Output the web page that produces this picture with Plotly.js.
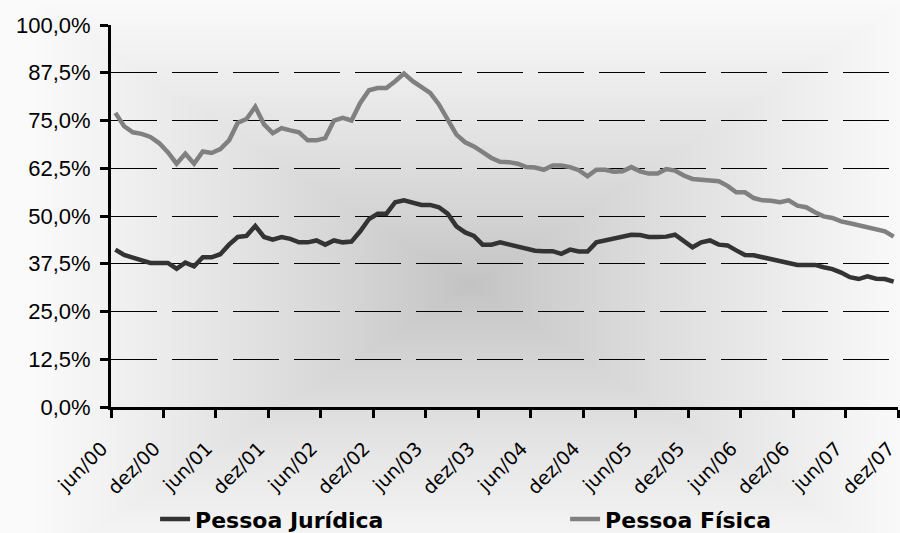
<!DOCTYPE html>
<html>
<head>
<meta charset="utf-8">
<script src="https://cdn.plot.ly/plotly-3.0.1.min.js"></script>
<style>
  html, body { margin: 0; padding: 0; background: #ffffff; }
  #chart { width: 900px; height: 533px; background-repeat: no-repeat; }
</style>
</head>
<body>
<div id="chart"></div>
<script>
// ---- Data, monthly jun/00 .. nov/07 ----
const juridica = [41.2, 39.8, 39.1, 38.3, 37.7, 37.7, 37.7, 36.2, 37.8, 36.8,
  39.2, 39.2, 40.0, 42.5, 44.5, 44.8, 47.4, 44.5, 43.8, 44.5,
  44.0, 43.1, 43.1, 43.6, 42.5, 43.6, 43.1, 43.3, 46.0, 49.2,
  50.6, 50.6, 53.6, 54.1, 53.6, 52.9, 52.9, 52.3, 50.6, 47.3,
  45.7, 44.8, 42.5, 42.5, 43.1, 42.6, 41.9, 41.3, 40.9, 40.8,
  40.8, 40.1, 41.2, 40.7, 40.7, 43.1, 43.6, 44.2, 44.6, 45.1,
  45.0, 44.5, 44.5, 44.6, 45.1, 43.3, 41.8, 43.1, 43.6, 42.5,
  42.3, 41.0, 39.8, 39.7, 39.2, 38.7, 38.3, 37.7, 37.2, 37.2,
  37.2, 36.6, 36.1, 35.2, 34.0, 33.5, 34.2, 33.6, 33.5, 32.8];

const fisica = [77.0, 73.5, 71.9, 71.5, 70.7, 69.1, 66.7, 63.7, 66.3, 63.7,
  66.9, 66.5, 67.5, 69.8, 74.4, 75.4, 78.6, 74.0, 71.7, 73.0,
  72.4, 71.9, 69.8, 69.8, 70.4, 75.0, 75.7, 75.0, 79.6, 82.9,
  83.5, 83.5, 85.3, 87.3, 85.3, 83.9, 82.2, 79.2, 75.2, 71.3,
  69.3, 68.2, 66.7, 65.2, 64.2, 64.1, 63.7, 62.8, 62.7, 62.1,
  63.2, 63.2, 62.8, 62.0, 60.4, 62.1, 62.1, 61.6, 61.7, 62.8,
  61.7, 61.1, 61.1, 62.3, 61.9, 60.6, 59.7, 59.5, 59.2, 59.1,
  57.9, 56.2, 56.2, 54.7, 54.1, 54.0, 53.6, 54.1, 52.7, 52.3,
  51.0, 49.9, 49.5, 48.6, 48.1, 47.6, 47.1, 46.6, 46.0, 44.6];

const xTickLabels = ['jun/00','dez/00','jun/01','dez/01','jun/02','dez/02','jun/03','dez/03',
  'jun/04','dez/04','jun/05','dez/05','jun/06','dez/06','jun/07','dez/07'];
const yTickVals = [0, 12.5, 25, 37.5, 50, 62.5, 75, 87.5, 100];
const yTickLabels = ['0,0%','12,5%','25,0%','37,5%','50,0%','62,5%','75,0%','87,5%','100,0%'];
const seriesNames = ['Pessoa Jurídica', 'Pessoa Física'];

// category names (months) for hover
const mesesAbrev = ['jan','fev','mar','abr','mai','jun','jul','ago','set','out','nov','dez'];
const meses = [];
for (let i = 0; i < juridica.length; i++) {
  const m = (5 + i) % 12;
  const y = Math.floor((5 + i) / 12);
  meses.push(mesesAbrev[m] + '/' + String(y).padStart(2, '0'));
}
const idx = meses.map((_, i) => i);
const tickPos = xTickLabels.map((_, j) => j * 6 - 0.5);

// ---- background: "from center" rectangular gradient ----
(function () {
  const W = 900, H = 533;
  const cv = document.createElement('canvas');
  cv.width = W; cv.height = H;
  const ctx = cv.getContext('2d');
  const img = ctx.createImageData(W, H);
  const cx = 470, cy = 285, a = 440, b = 285;
  for (let y = 0; y < H; y++) {
    for (let x = 0; x < W; x++) {
      let t = Math.max(Math.abs(x - cx) / a, Math.abs(y - cy) / b);
      if (t > 1) t = 1;
      const c = Math.round(194 + 56 * Math.pow(t, 0.85));
      const p = (y * W + x) * 4;
      img.data[p] = c; img.data[p + 1] = c; img.data[p + 2] = c; img.data[p + 3] = 255;
    }
  }
  ctx.putImageData(img, 0, 0);
  document.getElementById('chart').style.backgroundImage = 'url(' + cv.toDataURL() + ')';
})();

const legendFont = { family: 'DejaVu Sans, Verdana, sans-serif', size: 22, color: '#000000', weight: 'bold' };

const traces = [
  { x: idx, y: juridica, text: meses, type: 'scatter', mode: 'lines', name: seriesNames[0],
    legend: 'legend',
    line: { color: '#333333', width: 4.5 }, hovertemplate: '%{text}: %{y:.1f}%<extra></extra>' },
  { x: idx, y: fisica, text: meses, type: 'scatter', mode: 'lines', name: seriesNames[1],
    legend: 'legend2',
    line: { color: '#808080', width: 4.5 }, hovertemplate: '%{text}: %{y:.1f}%<extra></extra>' }
];

const layout = {
  width: 900, height: 533,
  margin: { l: 111, r: 2, t: 25, b: 126, autoexpand: false },
  paper_bgcolor: 'rgba(0,0,0,0)',
  plot_bgcolor: 'rgba(0,0,0,0)',
  showlegend: true,
  legend: {
    orientation: 'h', x: 0.056, xanchor: 'left', y: -0.294, yanchor: 'middle',
    bgcolor: 'rgba(0,0,0,0)', font: legendFont
  },
  legend2: {
    orientation: 'h', x: 0.577, xanchor: 'left', y: -0.294, yanchor: 'middle',
    bgcolor: 'rgba(0,0,0,0)', font: legendFont
  },
  xaxis: {
    range: [-0.5, idx.length - 0.5],
    tickmode: 'array', tickvals: tickPos, ticktext: xTickLabels,
    tickangle: -45,
    ticks: 'outside', ticklen: 8, tickwidth: 3, tickcolor: '#000000',
    ticklabelstandoff: 12, ticklabelshift: -9,
    showline: true, linewidth: 3, linecolor: '#000000',
    showgrid: false, zeroline: false, automargin: false,
    tickfont: { family: 'DejaVu Sans, Verdana, sans-serif', size: 19, color: '#000000' }
  },
  yaxis: {
    range: [0, 100],
    tickmode: 'array', tickvals: yTickVals, ticktext: yTickLabels,
    ticks: 'outside', ticklen: 8, tickwidth: 3, tickcolor: '#000000',
    ticklabelstandoff: 5,
    showline: true, linewidth: 3, linecolor: '#000000',
    showgrid: true, gridcolor: '#000000', gridwidth: 1, griddash: '46px,15px',
    zeroline: false, automargin: false,
    tickfont: { family: 'Liberation Sans, Arial, sans-serif', size: 22, color: '#000000' }
  }
};

Plotly.newPlot('chart', traces, layout, { displayModeBar: false, responsive: false });
</script>
</body>
</html>
